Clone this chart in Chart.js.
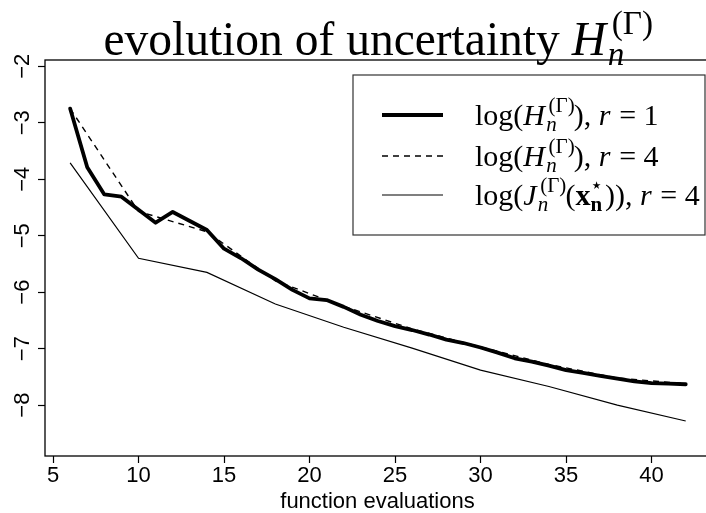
<!DOCTYPE html>
<html>
<head>
<meta charset="utf-8">
<script src="https://cdn.jsdelivr.net/npm/chart.js@4.4.1/dist/chart.umd.min.js"></script>
<style>
	html, body { margin: 0; padding: 0; overflow: hidden; background: #fff; }
</style>
</head>
<body>
<canvas id="chart" width="720" height="513"></canvas>
<script>
// evaluations for the r = 1 run (one per step) and for the r = 4 runs (batches of 4)
const evalsR1 = [6, 7, 8, 9, 10, 11, 12, 13, 14, 15, 16, 17, 18, 19, 20, 21, 22, 23, 24,
	25, 26, 27, 28, 29, 30, 31, 32, 33, 34, 35, 36, 37, 38, 39, 40, 41, 42];
const evalsR4 = [6, 10, 14, 18, 22, 26, 30, 34, 38, 42];

// log(H_n), r = 1
const logH1 = [-2.75, -3.79, -4.27, -4.31, -4.54, -4.77, -4.58, -4.74, -4.90, -5.23, -5.40,
	-5.60, -5.77, -5.96, -6.11, -6.14, -6.26, -6.40, -6.51, -6.60, -6.67, -6.75, -6.84, -6.90,
	-6.98, -7.07, -7.17, -7.23, -7.30, -7.38, -7.43, -7.48, -7.53, -7.58, -7.61, -7.62, -7.63];
// log(H_n), r = 4
const logH4 = [-2.75, -4.57, -4.93, -5.80, -6.25, -6.65, -6.97, -7.28, -7.52, -7.62];
// log(J_n(x*_n)), r = 4
const logJ4 = [-3.71, -5.40, -5.65, -6.21, -6.62, -6.99, -7.38, -7.67, -8.00, -8.28];

const xTicks = [5, 10, 15, 20, 25, 30, 35, 40];
const yTicks = [-2, -3, -4, -5, -6, -7, -8];

const SANS = '"Liberation Sans", Arial, sans-serif';
const SERIF = '"Liberation Serif", "Times New Roman", serif';

function toPoints(xs, ys) {
	return xs.map((x, i) => ({ x: x, y: ys[i] }));
}

/**
 * Draw a run of math-like pieces. Each piece: {t, f:'rm'|'it'|'bf', sub, sup, subF, supF}
 * Returns the width; nothing is painted when dryRun is true.
 */
function mathRun(ctx, pieces, x, y, size, dryRun) {
	const fontFor = (f, s) => {
		if (f === 'it') return 'italic ' + s + 'px ' + SERIF;
		if (f === 'bf') return 'bold ' + s + 'px ' + SERIF;
		return s + 'px ' + SERIF;
	};
	let cx = x;
	const small = size * 0.7;
	pieces.forEach((p) => {
		ctx.font = fontFor(p.f, size);
		const w = ctx.measureText(p.t).width;
		if (!dryRun) ctx.fillText(p.t, cx, y);
		cx += w + (p.f === 'it' ? size * 0.04 : 0);
		let sw = 0;
		if (p.sub) {
			ctx.font = fontFor(p.subF || 'it', small);
			sw = Math.max(sw, ctx.measureText(p.sub).width);
			if (!dryRun) ctx.fillText(p.sub, cx, y + size * 0.2);
		}
		if (p.sup) {
			ctx.font = fontFor(p.supF || 'rm', small);
			sw = Math.max(sw, ctx.measureText(p.sup).width);
			if (!dryRun) ctx.fillText(p.sup, cx + (p.f === 'it' ? size * 0.08 : 0), y - size * 0.45);
		}
		cx += sw ? sw + size * 0.05 : 0;
	});
	return cx - x;
}

const titlePieces = [
	{ t: 'evolution of uncertainty ', f: 'rm' },
	{ t: 'H', f: 'it', sub: 'n', sup: '(\u0393)' },
];

const legendItems = [
	{
		width: 3.8, dash: [],
		pieces: [
			{ t: 'log(', f: 'rm' }, { t: 'H', f: 'it', sub: 'n', sup: '(\u0393)' },
			{ t: '), ', f: 'rm' }, { t: 'r', f: 'it' }, { t: ' = 1', f: 'rm' },
		],
	},
	{
		width: 1.4, dash: [6, 5],
		pieces: [
			{ t: 'log(', f: 'rm' }, { t: 'H', f: 'it', sub: 'n', sup: '(\u0393)' },
			{ t: '), ', f: 'rm' }, { t: 'r', f: 'it' }, { t: ' = 4', f: 'rm' },
		],
	},
	{
		width: 1.2, dash: [],
		pieces: [
			{ t: 'log(', f: 'rm' }, { t: 'J', f: 'it', sub: 'n', sup: '(\u0393)' },
			{ t: '(', f: 'rm' }, { t: 'x', f: 'bf', sub: 'n', subF: 'bf', sup: '\u22c6' },
			{ t: ')), ', f: 'rm' }, { t: 'r', f: 'it' }, { t: ' = 4', f: 'rm' },
		],
	},
];

// draws the box, rotated y labels, x labels, axis title, main title and legend
const decorations = {
	id: 'decorations',
	afterDraw(chart) {
		const ctx = chart.ctx;
		const area = chart.chartArea;
		const xs = chart.scales.x;
		const ys = chart.scales.y;
		ctx.save();
		ctx.fillStyle = '#000';
		ctx.strokeStyle = '#000';

		// plot box
		ctx.lineWidth = 1.3;
		ctx.strokeRect(area.left, area.top, area.right - area.left, area.bottom - area.top);

		// y tick labels, reading upwards
		ctx.font = '22px ' + SANS;
		ctx.textAlign = 'center';
		ctx.textBaseline = 'middle';
		ys.ticks.forEach((t) => {
			const y = ys.getPixelForValue(t.value);
			ctx.save();
			ctx.translate(23, y);
			ctx.rotate(-Math.PI / 2);
			ctx.fillText(String(t.value).replace('-', '\u2212'), 0, 0);
			ctx.restore();
		});

		// x tick labels
		ctx.textBaseline = 'alphabetic';
		xs.ticks.forEach((t) => {
			ctx.fillText(String(t.value), xs.getPixelForValue(t.value), 482);
		});
		ctx.fillText('function evaluations', (area.left + area.right) / 2, 508);

		// title
		ctx.textAlign = 'left';
		const tSize = 47.5;
		const tw = mathRun(ctx, titlePieces, 0, 0, tSize, true);
		mathRun(ctx, titlePieces, (area.left + area.right) / 2 - tw / 2, 55, tSize, false);

		// legend
		const lx = 353, ly = 75, lw = 352, lh = 160;
		ctx.fillStyle = '#fff';
		ctx.fillRect(lx, ly, lw, lh);
		ctx.strokeStyle = '#333';
		ctx.lineWidth = 1.2;
		ctx.strokeRect(lx, ly, lw, lh);
		ctx.fillStyle = '#000';
		ctx.strokeStyle = '#000';
		const rowY = [115, 156, 195];
		legendItems.forEach((item, i) => {
			ctx.lineWidth = item.width;
			ctx.setLineDash(item.dash);
			ctx.beginPath();
			ctx.moveTo(382, rowY[i]);
			ctx.lineTo(443, rowY[i]);
			ctx.stroke();
			ctx.setLineDash([]);
			mathRun(ctx, item.pieces, 475, rowY[i] + 10, 30, false);
		});
		ctx.restore();
	},
};

const tickGrid = {
	display: true,
	drawOnChartArea: false,
	drawTicks: true,
	tickLength: 7,
	tickColor: '#000',
	tickWidth: 1.2,
};

new Chart(document.getElementById('chart'), {
	type: 'line',
	data: {
		datasets: [
			{
				label: 'log(H), r = 1',
				data: toPoints(evalsR1, logH1),
				borderColor: '#000',
				borderWidth: 3.8,
				borderJoinStyle: 'round',
				borderCapStyle: 'round',
				pointRadius: 0,
				tension: 0,
			},
			{
				label: 'log(H), r = 4',
				data: toPoints(evalsR4, logH4),
				borderColor: '#000',
				borderWidth: 1.4,
				borderDash: [6, 5],
				pointRadius: 0,
				tension: 0,
			},
			{
				label: 'log(J), r = 4',
				data: toPoints(evalsR4, logJ4),
				borderColor: '#000',
				borderWidth: 1.2,
				pointRadius: 0,
				tension: 0,
			},
		],
	},
	options: {
		responsive: false,
		animation: false,
		devicePixelRatio: 1,
		layout: { padding: { top: 60, left: 0, right: 10, bottom: 0 } },
		plugins: {
			legend: { display: false },
			title: { display: false },
			tooltip: { enabled: false },
		},
		scales: {
			x: {
				type: 'linear',
				min: 4.53,
				max: 43.42,
				grid: tickGrid,
				border: { display: false },
				ticks: { display: false },
				afterBuildTicks: (s) => { s.ticks = xTicks.map((v) => ({ value: v })); },
				afterFit: (s) => { s.height = 57; },
			},
			y: {
				type: 'linear',
				min: -8.9,
				max: -1.89,
				grid: tickGrid,
				border: { display: false },
				ticks: { display: false },
				afterBuildTicks: (s) => { s.ticks = yTicks.map((v) => ({ value: v })); },
				afterFit: (s) => { s.width = 45; },
			},
		},
	},
	plugins: [decorations],
});
</script>
</body>
</html>
